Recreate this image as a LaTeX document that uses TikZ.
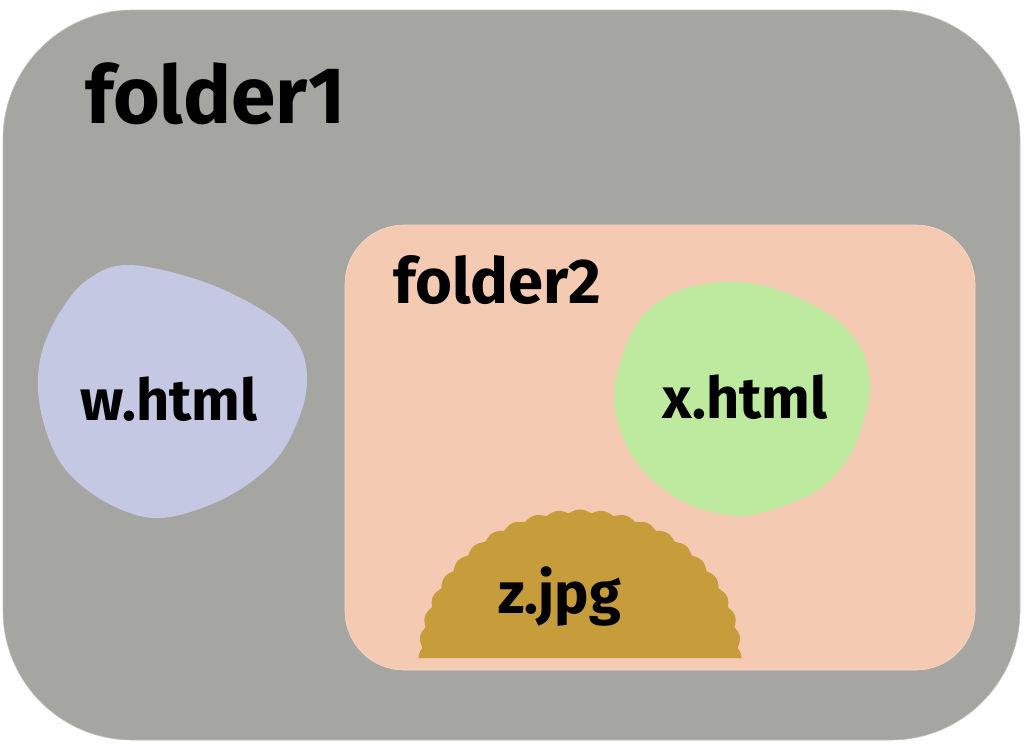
\documentclass[tikz,border=0pt]{standalone}
\usepackage{fontspec}
\setmainfont{Fira Sans}
\usepackage{xcolor}
\definecolor{flgray}{RGB}{165,165,162}
\definecolor{flpeach}{RGB}{245,202,178}
\definecolor{flblue}{RGB}{197,200,226}
\definecolor{flgreen}{RGB}{190,234,160}
\definecolor{flgold}{RGB}{199,156,58}
\usetikzlibrary{positioning}

\tikzset{
  biglabel/.style={font=\fontsize{57}{60}\selectfont\bfseries,inner sep=0pt,anchor=base west},
  midlabel/.style={font=\fontsize{45}{48}\selectfont\bfseries,inner sep=0pt,anchor=base west},
  filelabel/.style={font=\fontsize{41}{45}\selectfont\bfseries,inner sep=0pt,anchor=base west}
}

\begin{document}
\begin{tikzpicture}[x=0.025cm,y=-0.025cm]
  \useasboundingbox (0,0) rectangle (1024,745);
  % folders
  \draw[fill=flgray,draw=flgray!70!white,rounded corners=92pt] (3,10) rectangle (1020,740);
  \draw[fill=flpeach,draw=flpeach!70!white,rounded corners=42pt] (345,225) rectangle (975,670);
  % files
  \fill[flblue] plot[smooth cycle,tension=0.6] coordinates
    {(130,265) (207,283) (273,317) (300,347) (307,383) (297,423) (273,463) (227,497)
     (170,517) (130,513) (87,490) (57,457) (40,407) (40,360) (57,317) (87,280)};
  \fill[flgreen] plot[smooth cycle,tension=0.6] coordinates
    {(740,282) (787,293) (833,317) (860,347) (870,383) (863,423) (847,460) (813,493)
     (760,513) (727,515) (680,500) (640,467) (618,423) (615,383) (633,330) (657,303) (690,287)};
  \fill[flgold] plot[domain=0:180,samples=541] ({580+(158+3.5*abs(cos(22*\x)))*cos(\x)},{658-(145+3.5*abs(cos(22*\x)))*sin(\x)}) -- cycle;
  % labels
  \node[biglabel] (f1) at (85,123) {folder1};
  \node[midlabel] (f2) at (393,303) {folder2};
  \node[filelabel] (w) at (80,420) {w.html};
  \node[filelabel] (x) at (662,418) {x.html};
  \node[filelabel] (z) at (498,613) {z.jpg};
\end{tikzpicture}
\end{document}
